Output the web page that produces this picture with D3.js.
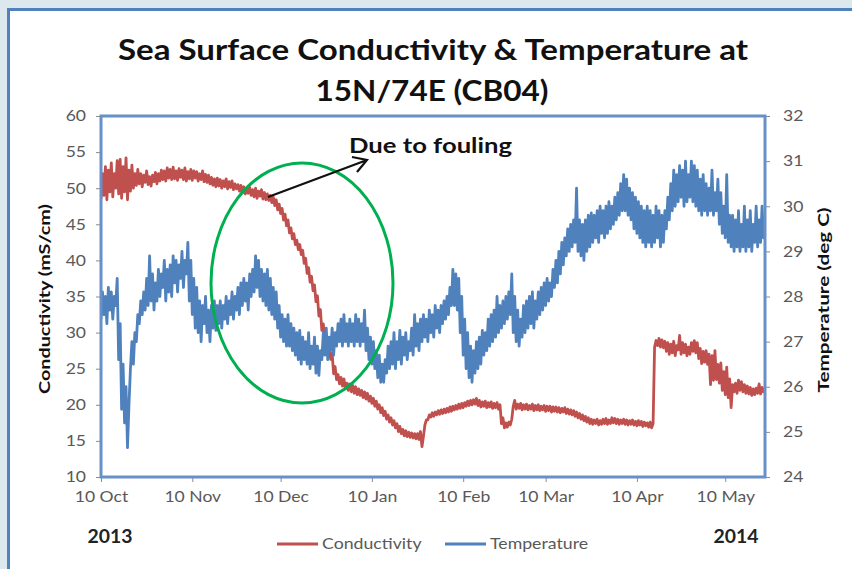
<!DOCTYPE html>
<html>
<head>
<meta charset="utf-8">
<title>Sea Surface Conductivity &amp; Temperature at 15N/74E (CB04)</title>
<script src="https://cdn.jsdelivr.net/npm/d3@7/dist/d3.min.js"></script>
<style>
  body { margin: 0; background: #dde7ee; }
  svg { display: block; }
</style>
</head>
<body>
<svg width="852" height="569"></svg>
<script>
// two readings a day (daily low, daily high) from 10 Oct 2013
const startDate = '2013-10-10';
const xTickDates = ['2013-10-10', '2013-11-10', '2013-12-10', '2014-01-10',
                    '2014-02-10', '2014-03-10', '2014-04-10', '2014-05-10'];
const yearLabels = ['2013', '2014'];
const seriesNames = ['Conductivity', 'Temperature'];

const conductivity = [
  48.5, 52.0, 49.0, 53.0, 48.4, 52.5, 49.5, 53.5, 48.8, 52.0,
  50.0, 53.8, 49.2, 54.0, 48.6, 53.0, 49.5, 54.2, 48.4, 52.5,
  49.6, 53.2, 50.0, 52.0, 50.4, 52.6, 50.6, 52.0, 50.2, 51.8,
  50.8, 52.4, 50.5, 51.6, 50.3, 51.8, 50.9, 52.2, 50.6, 52.0,
  51.0, 52.5, 51.2, 52.4, 51.0, 52.8, 51.4, 52.6, 51.2, 52.9,
  51.3, 52.4, 51.1, 52.7, 51.5, 52.5, 51.2, 52.8, 51.0, 52.3,
  51.3, 52.6, 51.1, 52.4, 51.4, 52.3, 51.0, 52.0, 51.2, 52.4,
  50.9, 51.9, 50.8, 51.8, 50.6, 51.5, 50.4, 51.3, 50.2, 51.4,
  50.3, 51.2, 50.0, 51.0, 50.2, 51.3, 49.9, 50.9, 50.1, 51.0,
  49.8, 50.6, 49.9, 50.5, 49.6, 50.4, 49.4, 50.2, 49.2, 50.0,
  49.3, 50.1, 49.0, 49.8, 48.8, 50.0, 48.6, 49.6, 48.9, 49.8,
  48.5, 49.4, 48.4, 49.2, 48.3, 49.0, 48.0, 48.8, 47.6, 48.4,
  47.0, 47.8, 46.5, 47.2, 45.6, 46.4, 44.8, 45.6, 43.8, 44.5,
  43.0, 43.7, 42.2, 42.8, 41.5, 42.2, 40.8, 41.4, 39.6, 40.3,
  38.2, 39.0, 37.0, 37.8, 35.8, 36.6, 34.3, 35.1, 32.3, 33.2,
  30.3, 31.2, 28.8, 29.6, 27.6, 28.4, 26.3, 27.1, 24.3, 25.3,
  23.5, 24.2, 22.9, 23.8, 22.6, 23.6, 22.2, 23.0, 22.0, 22.9,
  21.8, 22.7, 21.6, 22.5, 21.4, 22.2, 21.3, 22.0, 21.0, 21.8,
  20.8, 21.6, 20.5, 21.2, 20.2, 20.9, 19.8, 20.5, 19.4, 20.0,
  18.9, 19.6, 18.5, 19.1, 18.0, 18.6, 17.6, 18.2, 17.2, 17.8,
  16.8, 17.4, 16.3, 17.0, 16.0, 16.6, 15.7, 16.4, 15.6, 16.2,
  15.5, 16.1, 15.4, 16.0, 15.3, 16.0, 15.2, 16.3, 14.2, 15.6,
  17.2, 17.9, 17.9, 18.6, 18.3, 18.9, 18.4, 19.0, 18.6, 19.2,
  18.7, 19.3, 18.8, 19.4, 18.9, 19.5, 19.0, 19.7, 19.1, 19.8,
  19.3, 19.9, 19.4, 20.1, 19.5, 20.2, 19.6, 20.3, 19.8, 20.5,
  19.9, 20.6, 20.0, 20.7, 20.1, 20.9, 19.9, 20.6, 19.7, 20.4,
  19.8, 20.5, 19.6, 20.3, 19.7, 20.4, 19.5, 20.2, 19.6, 20.3,
  19.4, 20.0, 17.4, 18.2, 16.8, 17.5, 16.9, 17.6, 17.2, 18.0,
  19.8, 20.6, 19.4, 20.1, 19.5, 20.2, 19.3, 20.0, 19.4, 20.1,
  19.3, 19.9, 19.4, 20.1, 19.2, 19.9, 19.3, 20.0, 19.2, 19.8,
  19.3, 19.9, 19.1, 19.8, 19.2, 19.8, 19.0, 19.7, 19.1, 19.7,
  19.0, 19.6, 18.9, 19.5, 19.0, 19.6, 18.8, 19.4, 18.7, 19.3,
  18.6, 19.2, 18.4, 19.0, 18.2, 18.8, 18.0, 18.6, 17.8, 18.4,
  17.6, 18.2, 17.4, 18.0, 17.3, 17.9, 17.4, 18.0, 17.2, 17.8,
  17.3, 18.0, 17.4, 18.1, 17.3, 17.9, 17.4, 18.2, 17.5, 18.1,
  17.4, 18.0, 17.3, 17.9, 17.4, 18.0, 17.3, 17.9, 17.2, 17.8,
  17.3, 17.9, 17.2, 17.7, 17.1, 17.8, 17.2, 17.7, 17.0, 17.6,
  17.1, 17.5, 16.9, 17.6, 16.8, 17.4, 28.0, 28.9, 28.2, 29.2,
  28.0, 29.0, 27.9, 28.8, 27.4, 28.6, 27.0, 28.4, 27.2, 28.8,
  26.8, 28.2, 27.6, 29.6, 27.0, 28.6, 27.2, 28.4, 26.8, 28.0,
  27.0, 28.6, 27.4, 28.9, 27.2, 28.6, 26.4, 27.8, 25.7, 27.4,
  25.9, 27.5, 25.6, 27.0, 22.8, 26.8, 23.4, 27.5, 23.5, 25.6,
  23.0, 25.8, 22.0, 24.6, 21.4, 25.2, 21.0, 23.6, 19.6, 22.8,
  21.8, 23.0, 21.6, 23.4, 22.0, 23.2, 21.8, 22.8, 21.6, 22.6,
  21.5, 22.4, 21.3, 22.2, 21.4, 22.3, 21.6, 22.9, 21.5, 22.4,
  21.8, 22.3
];

const temperature = [
  27.5, 28.1, 27.6, 28.0, 27.4, 28.2, 27.7, 28.1, 27.5, 28.0,
  27.8, 28.4, 26.6, 27.4, 25.5, 26.5, 25.2, 26.0, 24.65, 25.6,
  26.4, 27.0, 26.5, 27.2, 27.0, 27.6, 27.4, 27.9, 27.6, 28.1,
  27.7, 28.4, 27.8, 28.9, 27.9, 28.5, 27.7, 28.3, 27.9, 28.6,
  28.0, 28.5, 28.2, 28.8, 27.9, 28.6, 28.1, 28.7, 28.0, 28.9,
  28.3, 28.8, 28.1, 28.7, 28.4, 29.0, 28.2, 28.8, 28.5, 29.2,
  27.9, 28.8, 27.6, 28.4, 27.3, 28.2, 27.2, 27.9, 27.0, 27.8,
  27.4, 28.0, 27.2, 27.7, 27.0, 27.8, 27.3, 27.9, 27.25, 27.8,
  27.4, 27.9, 27.3, 27.8, 27.5, 28.0, 27.4, 27.9, 27.6, 28.1,
  27.5, 28.0, 27.7, 28.2, 27.6, 28.3, 27.8, 28.4, 27.9, 28.3,
  27.7, 28.5, 28.0, 28.6, 28.1, 28.9, 28.2, 28.8, 28.0, 28.6,
  27.9, 28.5, 27.8, 28.6, 27.7, 28.4, 27.6, 28.2, 27.5, 28.1,
  27.3, 27.8, 27.1, 27.6, 27.0, 27.5, 26.9, 27.6, 26.9, 27.4,
  26.8, 27.3, 26.7, 27.2, 26.6, 27.25, 26.5, 27.1, 26.6, 27.0,
  26.5, 27.2, 26.4, 26.9, 26.5, 27.1, 26.3, 26.9, 26.25, 26.8,
  26.6, 27.2, 26.7, 27.3, 26.6, 27.1, 26.8, 27.3, 26.7, 27.2,
  26.9, 27.4, 27.0, 27.5, 26.9, 27.6, 27.0, 27.4, 26.9, 27.5,
  27.0, 27.4, 26.9, 27.6, 27.0, 27.5, 26.9, 27.4, 27.0, 27.7,
  26.8, 27.3, 26.6, 27.1, 26.5, 27.0, 26.4, 26.8, 26.2, 26.7,
  26.1, 26.5, 26.1, 26.6, 26.3, 26.9, 26.4, 27.0, 26.5, 27.2,
  26.4, 27.0, 26.6, 27.25, 26.5, 27.1, 26.7, 27.2, 26.6, 27.0,
  26.8, 27.3, 26.7, 27.6, 26.9, 27.4, 26.8, 27.5, 27.0, 27.6,
  27.1, 27.5, 27.0, 27.7, 27.2, 27.6, 27.1, 27.8, 27.3, 27.7,
  27.2, 27.8, 27.4, 27.9, 27.5, 28.0, 27.6, 28.2, 27.8, 28.6,
  27.8, 28.5, 27.7, 28.4, 27.2, 28.0, 26.7, 27.5, 26.4, 27.2,
  26.2, 26.9, 26.1, 26.8, 26.3, 27.0, 26.4, 27.1, 26.5, 27.25,
  26.7, 27.2, 26.8, 27.5, 26.9, 27.6, 27.0, 27.7, 27.1, 28.0,
  27.2, 27.8, 27.3, 27.9, 27.4, 28.0, 27.5, 28.1, 27.6, 28.5,
  27.2, 28.0, 27.0, 27.7, 26.9, 27.5, 27.1, 27.8, 27.2, 27.9,
  27.3, 28.0, 27.4, 28.1, 27.3, 27.9, 27.5, 28.1, 27.6, 28.2,
  27.7, 28.3, 27.8, 28.4, 27.9, 28.3, 28.0, 28.6, 28.2, 28.8,
  28.3, 29.0, 28.5, 29.2, 28.7, 29.3, 28.9, 29.5, 29.0, 29.6,
  29.1, 29.7, 29.2, 30.4, 29.0, 29.7, 28.9, 29.6, 28.8, 29.7,
  29.0, 29.8, 29.1, 29.85, 29.2, 29.8, 29.3, 29.9, 29.2, 30.0,
  29.4, 29.9, 29.3, 30.0, 29.4, 30.1, 29.5, 30.0, 29.6, 30.2,
  29.7, 30.3, 29.8, 30.5, 29.9, 30.7, 29.9, 30.6, 29.8, 30.4,
  29.7, 30.3, 29.5, 30.2, 29.4, 30.1, 29.3, 30.0, 29.2, 29.9,
  29.1, 30.0, 29.2, 29.9, 29.1, 29.8, 29.2, 30.0, 29.3, 29.9,
  29.1, 29.8, 29.2, 29.9, 29.5, 30.2, 29.7, 30.5, 29.9, 30.8,
  30.0, 30.7, 30.1, 30.9, 30.2, 30.8, 30.0, 31.0, 30.1, 30.7,
  30.2, 31.0, 30.1, 30.9, 30.0, 30.8, 29.9, 30.6, 29.8, 30.7,
  29.9, 30.5, 29.8, 30.4, 29.9, 30.8, 29.8, 30.3, 29.9, 30.6,
  29.6, 30.3, 29.4, 30.0, 29.3, 30.7, 29.2, 29.8, 29.1, 29.8,
  29.0, 29.7, 29.1, 29.9, 29.0, 29.6, 29.1, 30.0, 29.0, 29.7,
  29.1, 29.9, 29.0, 29.6, 29.2, 30.0, 29.1, 29.7, 29.2, 30.0,
  29.3, 29.6
];

const colors = { cond: '#c0504d', temp: '#4f81bd', fouling: '#00b050', text: '#595959' };
const font = 'Lato, "Open Sans", sans-serif';

const svg = d3.select('svg');
const plot = { left: 101, right: 765, top: 116, bottom: 477 };

const parseDate = d3.timeParse('%Y-%m-%d');
const t0 = parseDate(startDate);
const timeOf = i => d3.timeHour.offset(t0, i * 12);

const x = d3.scaleTime()
    .domain([t0, timeOf(conductivity.length - 1)])
    .range([plot.left, plot.right]);
const yCond = d3.scaleLinear().domain([10, 60]).range([plot.bottom, plot.top]);
const yTemp = d3.scaleLinear().domain([24, 32]).range([plot.bottom, plot.top]);

// text in the picture is a bit wider than the font, so stretch it
const stretch = (sel, k) => sel.each(function () {
    const len = this.getComputedTextLength();
    d3.select(this).attr('textLength', len * k).attr('lengthAdjust', 'spacingAndGlyphs');
});

// outer white panel
svg.append('rect')
    .attr('x', 8.5).attr('y', 9.5)
    .attr('width', 900).attr('height', 700)
    .attr('fill', 'white')
    .attr('stroke', '#4f81bd')
    .attr('stroke-width', 3);

// title
const title = svg.append('g')
    .attr('font-family', font)
    .attr('font-weight', 700)
    .attr('font-size', 29)
    .attr('fill', '#111')
    .attr('text-anchor', 'middle');
title.append('text').attr('x', 433).attr('y', 60)
    .text('Sea Surface Conductivity & Temperature at')
    .attr('textLength', 630).attr('lengthAdjust', 'spacingAndGlyphs');
title.append('text').attr('x', 432).attr('y', 101)
    .text('15N/74E (CB04)')
    .attr('textLength', 233).attr('lengthAdjust', 'spacingAndGlyphs');

// axes
const styleAxis = g => {
    g.select('.domain').remove();
    g.selectAll('.tick line').attr('stroke', '#8c8c8c');
    g.selectAll('.tick text')
        .attr('fill', colors.text)
        .attr('font-family', font)
        .attr('font-size', 15)
        .call(stretch, 1.17);
};

svg.append('g')
    .attr('transform', `translate(${plot.left},0)`)
    .call(d3.axisLeft(yCond).ticks(10).tickSize(5).tickPadding(10))
    .call(styleAxis);

svg.append('g')
    .attr('transform', `translate(${plot.right},0)`)
    .call(d3.axisRight(yTemp).ticks(8).tickSize(5).tickPadding(13))
    .call(styleAxis);

svg.append('g')
    .attr('transform', `translate(0,${plot.bottom})`)
    .call(d3.axisBottom(x)
        .tickValues(xTickDates.map(parseDate))
        .tickFormat(d3.timeFormat('%d %b'))
        .tickSize(5).tickPadding(9))
    .call(styleAxis);

// axis titles
svg.append('text')
    .attr('transform', 'translate(50,299) rotate(-90)')
    .attr('text-anchor', 'middle')
    .attr('font-family', font).attr('font-weight', 700).attr('font-size', 15)
    .attr('fill', '#111')
    .text('Conductivity (mS/cm)')
    .attr('textLength', 190).attr('lengthAdjust', 'spacingAndGlyphs');

svg.append('text')
    .attr('transform', 'translate(829,300) rotate(-90)')
    .attr('text-anchor', 'middle')
    .attr('font-family', font).attr('font-weight', 700).attr('font-size', 15)
    .attr('fill', '#111')
    .text('Temperature (deg C)')
    .attr('textLength', 185).attr('lengthAdjust', 'spacingAndGlyphs');

// year labels under the first and last ticks
svg.selectAll('.year')
    .data(yearLabels)
    .enter().append('text')
    .attr('class', 'year')
    .attr('x', (d, i) => i === 0 ? 110 : 736)
    .attr('y', 543)
    .attr('text-anchor', 'middle')
    .attr('font-family', font).attr('font-weight', 700).attr('font-size', 18)
    .attr('fill', '#222')
    .text(d => d)
    .attr('textLength', 45).attr('lengthAdjust', 'spacingAndGlyphs');

// series
svg.append('clipPath').attr('id', 'plot-clip')
    .append('rect')
    .attr('x', plot.left).attr('y', plot.top)
    .attr('width', plot.right - plot.left)
    .attr('height', plot.bottom - plot.top);

const lineCond = d3.line().x((d, i) => x(timeOf(i))).y(d => yCond(d));
const lineTemp = d3.line().x((d, i) => x(timeOf(i))).y(d => yTemp(d));

const series = svg.append('g').attr('clip-path', 'url(#plot-clip)');

series.append('path')
    .datum(conductivity)
    .attr('d', lineCond)
    .attr('fill', 'none')
    .attr('stroke', colors.cond)
    .attr('stroke-width', 2.8)
    .attr('stroke-linejoin', 'round');

series.append('path')
    .datum(temperature)
    .attr('d', lineTemp)
    .attr('fill', 'none')
    .attr('stroke', colors.temp)
    .attr('stroke-width', 2.8)
    .attr('stroke-linejoin', 'round');

// plot frame
svg.append('rect')
    .attr('x', plot.left).attr('y', plot.top)
    .attr('width', plot.right - plot.left)
    .attr('height', plot.bottom - plot.top)
    .attr('fill', 'none')
    .attr('stroke', '#6790c8')
    .attr('stroke-width', 3);

// annotation: fouling ellipse and arrow
svg.append('ellipse')
    .attr('cx', 302).attr('cy', 283)
    .attr('rx', 91).attr('ry', 120)
    .attr('fill', 'none')
    .attr('stroke', colors.fouling)
    .attr('stroke-width', 3);

svg.append('path')
    .attr('d', 'M268,197 L367,160 M352,157 L367,160 L357,172')
    .attr('fill', 'none')
    .attr('stroke', '#111')
    .attr('stroke-width', 2.2);

svg.append('text')
    .attr('x', 349).attr('y', 153)
    .attr('font-family', font).attr('font-weight', 700).attr('font-size', 20)
    .attr('fill', '#111')
    .text('Due to fouling')
    .attr('textLength', 163).attr('lengthAdjust', 'spacingAndGlyphs');

// legend
const legend = svg.append('g').attr('transform', 'translate(277,544)');
const items = legend.selectAll('g')
    .data(seriesNames)
    .enter().append('g')
    .attr('transform', (d, i) => `translate(${i * 168},0)`);
items.append('line')
    .attr('x1', 0).attr('x2', 41)
    .attr('stroke', (d, i) => i === 0 ? colors.cond : colors.temp)
    .attr('stroke-width', 3);
items.append('text')
    .attr('x', 45).attr('dy', '0.35em')
    .attr('font-family', font).attr('font-size', 15)
    .attr('fill', colors.text)
    .text(d => d)
    .call(stretch, 1.18);
</script>
</body>
</html>
